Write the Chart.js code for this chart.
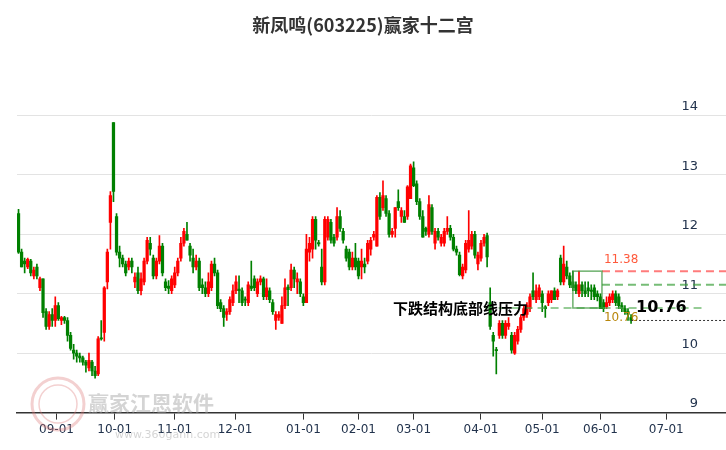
<!DOCTYPE html>
<html>
<head>
<meta charset="utf-8">
<script src="https://cdn.jsdelivr.net/npm/chart.js@4"></script>
<style>
  html, body { margin: 0; padding: 0; background: #fff; }
  #wrap { width: 726px; height: 450px; }
</style>
</head>
<body>
<div id="wrap"><canvas id="kline"></canvas></div>
<script>
// daily candles: [open, high, low, close]
const candles = [
  [12.35,12.42,11.68,11.70],[11.70,11.75,11.45,11.45],[11.55,11.60,11.35,11.50],[11.45,11.60,11.42,11.58],
  [11.55,11.58,11.30,11.35],[11.30,11.45,11.25,11.40],[11.45,11.50,11.25,11.30],[11.10,11.28,11.05,11.25],
  [11.25,11.25,10.60,10.68],[10.70,10.75,10.40,10.45],[10.45,10.70,10.40,10.65],[10.65,10.75,10.45,10.55],
  [10.55,10.95,10.45,10.80],[10.80,10.85,10.55,10.58],[10.55,10.62,10.48,10.60],[10.60,10.62,10.50,10.55],
  [10.55,10.60,10.20,10.30],[10.30,10.35,10.05,10.08],[10.05,10.15,9.90,10.00],[10.00,10.05,9.85,9.95],
  [9.95,10.00,9.85,9.92],[9.92,9.95,9.80,9.85],[9.85,9.88,9.68,9.80],[9.75,10.00,9.70,9.88],
  [9.85,9.88,9.62,9.70],[9.70,9.78,9.58,9.62],[9.65,10.28,9.62,10.24],[10.25,10.55,10.22,10.25],
  [10.35,11.12,10.20,11.10],[11.20,11.75,11.08,11.70],[12.20,12.72,11.75,12.65],[13.88,13.88,12.55,12.72],
  [12.30,12.35,11.65,11.70],[11.70,11.80,11.45,11.60],
  [11.60,11.65,11.45,11.50],[11.50,11.55,11.30,11.35],[11.45,11.60,11.40,11.55],[11.55,11.60,11.35,11.45],
  [11.20,11.35,11.10,11.28],[11.35,11.45,11.00,11.05],[11.05,11.35,10.98,11.25],[11.20,11.60,11.15,11.55],
  [11.55,11.95,11.50,11.90],[11.85,11.95,11.65,11.75],[11.60,11.65,11.25,11.30],[11.30,11.60,11.25,11.55],
  [11.55,11.98,11.50,11.80],[11.80,11.85,11.30,11.35],[11.20,11.25,11.05,11.10],[11.12,11.22,11.00,11.10],
  [11.05,11.30,11.00,11.25],[11.15,11.45,11.10,11.35],[11.35,11.60,11.30,11.55],[11.60,11.95,11.55,11.85],
  [11.85,12.10,11.80,12.05],[12.00,12.20,11.90,11.90],[11.80,11.85,11.55,11.65],[11.60,11.75,11.35,11.45],
  [11.45,11.65,11.40,11.55],[11.55,11.60,11.05,11.10],[11.15,11.25,11.00,11.10],[11.10,11.20,10.95,11.00],
  [11.00,11.35,10.95,11.20],[11.10,11.55,11.05,11.50],[11.50,11.60,11.30,11.35],[11.35,11.40,10.75,10.80],
  [10.85,10.90,10.70,10.75],[10.75,10.80,10.45,10.60],[10.65,10.75,10.55,10.70],[10.70,10.95,10.65,10.90],
  [10.85,11.15,10.80,11.05],[11.05,11.30,11.00,11.20],
  [11.08,11.30,10.85,11.05],[11.05,11.10,10.80,10.85],[10.90,10.95,10.80,10.90],[10.85,11.20,10.80,11.15],
  [11.12,11.55,11.05,11.10],[11.25,11.30,11.05,11.10],[11.00,11.25,10.95,11.20],[11.20,11.30,11.15,11.25],
  [11.25,11.28,10.90,10.95],[10.95,11.25,10.90,11.10],[11.05,11.10,10.85,10.90],[10.85,10.90,10.65,10.70],
  [10.55,10.70,10.40,10.65],[10.60,10.70,10.55,10.65],[10.50,10.95,10.50,10.80],[10.80,11.25,10.75,11.10],
  [11.10,11.15,10.80,11.08],[11.10,11.50,11.05,11.40],[11.40,11.45,11.10,11.25],[11.20,11.35,11.00,11.25],
  [11.20,11.25,10.95,11.00],[10.95,11.00,10.80,10.85],[10.85,12.00,10.85,11.75],[11.70,11.95,11.55,11.85],
  [11.75,12.30,11.60,12.25],[12.25,12.30,11.75,11.90],[11.85,11.90,11.80,11.85],[11.45,11.75,11.15,11.20],
  [11.20,12.30,11.15,12.25],[11.95,12.30,11.90,12.25],[12.20,12.25,11.85,11.90],[11.95,12.00,11.80,11.85],
  [11.95,12.45,11.90,12.30],[12.30,12.40,12.05,12.10],[12.05,12.10,11.85,11.90],[11.75,11.80,11.55,11.60],
  [11.70,11.75,11.40,11.45],[11.45,11.70,11.40,11.60],[11.60,11.85,11.40,11.45],[11.55,11.60,11.25,11.30],
  [11.45,11.75,11.25,11.55],[11.50,11.60,11.35,11.45],
  [11.55,11.90,11.50,11.85],[11.75,11.95,11.65,11.90],[11.95,12.05,11.90,12.00],[11.80,12.65,11.80,12.62],
  [12.62,12.70,12.25,12.30],[12.45,12.90,12.40,12.65],[12.60,12.65,12.30,12.35],[12.35,12.40,11.95,12.00],
  [12.00,12.10,11.95,12.05],[12.10,12.45,11.95,12.45],[12.55,12.75,12.40,12.45],[12.30,12.45,12.20,12.40],
  [12.30,12.40,12.20,12.20],[12.30,12.82,12.25,12.80],[12.60,13.18,12.60,13.15],[13.12,13.22,12.80,12.82],
  [12.85,12.90,12.50,12.55],[12.55,12.60,12.25,12.30],[12.30,12.40,11.95,11.95],[12.10,12.12,11.98,12.05],
  [12.00,12.65,11.95,12.50],[12.45,12.50,12.00,12.05],[11.85,12.10,11.75,12.05],[12.05,12.10,11.90,11.95],
  [11.85,12.00,11.80,11.95],[11.85,12.10,11.80,12.05],[12.05,12.30,12.00,12.10],[12.10,12.15,11.90,11.95],
  [11.95,12.00,11.72,11.75],[11.75,11.80,11.65,11.70],[11.65,11.70,11.30,11.32],[11.30,11.50,11.25,11.45],
  [11.40,11.90,11.35,11.85],[11.75,12.40,11.70,11.90],[11.80,12.05,11.75,12.00],[12.00,12.05,11.60,11.65],
  [11.50,11.70,11.40,11.65],[11.60,11.90,11.55,11.85],[11.85,12.00,11.80,11.95],[11.98,12.02,11.45,11.62],
  [10.85,11.10,10.40,10.45],[10.30,10.35,9.95,10.20],[10.05,10.10,9.65,10.05],[10.30,10.55,10.25,10.50],
  [10.50,10.55,10.25,10.30],[10.30,10.55,10.25,10.50],[10.45,10.60,10.40,10.50],[10.30,10.35,10.00,10.05],
  [10.00,10.35,9.98,10.30],[10.20,10.45,10.15,10.40],[10.40,10.65,10.35,10.60],[10.60,10.80,10.55,10.75],
  [10.65,10.85,10.60,10.80],[10.75,11.00,10.70,10.95],[11.05,11.35,10.90,10.95],[10.90,11.15,10.85,11.05],
  [10.95,11.15,10.90,11.10],[11.00,11.05,10.70,10.85],[10.78,10.80,10.60,10.75],[10.85,11.05,10.80,11.00],
  [10.90,11.05,10.85,11.05],[11.05,11.10,10.90,10.90],[10.95,11.08,10.90,11.05],[11.60,11.65,11.15,11.20],
  [11.20,11.80,11.15,11.50],[11.45,11.55,11.25,11.30],[11.30,11.35,11.10,11.15],[11.20,11.38,11.05,11.10],
  [11.15,11.20,11.00,11.05],[11.00,11.38,10.95,11.15],[11.15,11.20,10.95,11.05],[11.05,11.20,10.95,11.00],
  [11.10,11.20,10.95,11.05],[11.05,11.15,10.90,11.05],[11.10,11.15,10.90,10.95],[11.00,11.05,10.88,10.95],
  [10.95,11.00,10.75,10.75],[10.85,10.90,10.70,10.75],[10.78,10.95,10.75,10.85],[10.85,11.00,10.80,10.95],
  [10.90,11.05,10.85,11.00],[11.00,11.05,10.80,10.85],[10.95,11.00,10.75,10.80],[10.80,10.85,10.70,10.75],
  [10.75,10.80,10.65,10.70],[10.70,10.75,10.55,10.65],[10.60,10.65,10.50,10.55]
];

// month starts, in candle slots
const monthPos = [12.4, 31.4, 51, 70.7, 93, 111, 129, 151, 171, 190, 211.5];
const monthLabels = ['09-01','10-01','11-01','12-01','01-01','02-01','03-01','04-01','05-01','06-01','07-01'];
const yTicks = [9, 10, 11, 12, 13, 14];

// pattern levels
const resistTop = 11.38;
const resistMid = 11.15;
const baseLine = 10.76;
const lastPrice = 10.55;

const RED = 'rgb(255,0,0)';
const GREEN = 'rgb(0,128,0)';
const col = candles.map(c => c[3] > c[0] ? RED : GREEN);

const wicks = candles.map((c, i) => ({ x: i, y: [c[2], c[1]] }));
const bodies = candles.map((c, i) => {
  let lo = Math.min(c[0], c[3]), hi = Math.max(c[0], c[3]);
  if (hi - lo < 0.02) { lo -= 0.01; hi += 0.01; }
  return { x: i, y: [lo, hi] };
});

const overlay = {
  id: 'overlay',
  beforeDatasetsDraw(chart) {
    const ctx = chart.ctx;
    ctx.save();
    // watermark
    ctx.strokeStyle = 'rgba(220,120,120,0.35)';
    ctx.lineWidth = 3;
    ctx.beginPath(); ctx.arc(58, 404, 26, 0, Math.PI * 2); ctx.stroke();
    ctx.lineWidth = 1.5;
    ctx.beginPath(); ctx.arc(58, 404, 19, 0, Math.PI * 2); ctx.stroke();
    ctx.fillStyle = 'rgba(160,160,160,0.45)';
    ctx.font = 'bold 21px "Noto Sans CJK SC"';
    ctx.textBaseline = 'middle';
    ctx.fillText('赢家江恩软件', 88, 403);
    ctx.font = '11px "DejaVu Sans"';
    ctx.fillText('www.360gann.com', 115, 435);
    // y labels
    const y = chart.scales.y;
    ctx.fillStyle = '#22334d';
    ctx.font = '13px "DejaVu Sans"';
    ctx.textAlign = 'right';
    ctx.textBaseline = 'bottom';
    yTicks.forEach(v => ctx.fillText(String(v), 698, y.getPixelForValue(v) - 2));
    ctx.restore();
  },
  afterDatasetsDraw(chart) {
    const ctx = chart.ctx, x = chart.scales.x, y = chart.scales.y;
    const right = chart.chartArea.right;
    const hline = (v, x0, x1, color, dash, w) => {
      ctx.strokeStyle = color; ctx.setLineDash(dash); ctx.lineWidth = w;
      ctx.beginPath(); ctx.moveTo(x0, y.getPixelForValue(v)); ctx.lineTo(x1, y.getPixelForValue(v)); ctx.stroke();
    };
    ctx.save();
    hline(baseLine, x.getPixelForValue(152.5), x.getPixelForValue(223), 'rgba(80,170,80,0.6)', [8, 5], 2);
    hline(resistTop, x.getPixelForValue(190.5), right, 'rgba(255,90,90,0.8)', [8, 5], 2);
    hline(resistMid, x.getPixelForValue(190.5), right, 'rgba(60,160,60,0.7)', [8, 5], 2);
    hline(lastPrice, x.getPixelForValue(200), right, '#333', [2, 2], 1);
    ctx.setLineDash([]);
    ctx.strokeStyle = 'rgba(60,150,60,0.75)'; ctx.lineWidth = 1.5;
    const rx0 = x.getPixelForValue(181), rx1 = x.getPixelForValue(190.5);
    const ry0 = y.getPixelForValue(resistTop), ry1 = y.getPixelForValue(baseLine);
    ctx.strokeRect(rx0, ry0, rx1 - rx0, ry1 - ry0);

    ctx.textBaseline = 'middle';
    ctx.font = '12px "DejaVu Sans"';
    ctx.fillStyle = '#ff5a3c';
    ctx.fillText(resistTop.toFixed(2), rx1 + 2, ry0 - 11);
    ctx.fillStyle = '#b8860b';
    ctx.fillText(baseLine.toFixed(2), rx1 + 2, ry1 + 10);
    ctx.fillStyle = '#000';
    ctx.font = 'bold 16px "DejaVu Sans"';
    ctx.fillText(baseLine.toFixed(2), 636, ry1);
    ctx.font = 'bold 15px "Noto Sans CJK SC"';
    ctx.fillText('下跌结构底部线压力', 393, ry1);
    // title
    ctx.fillStyle = '#333';
    ctx.font = 'bold 18px "Noto Sans CJK SC"';
    ctx.textAlign = 'center';
    ctx.fillText('新凤鸣(603225)赢家十二宫', 363, 25);
    ctx.restore();
  }
};

new Chart(document.getElementById('kline'), {
  type: 'bar',
  data: {
    datasets: [
      { data: wicks, backgroundColor: col, barThickness: 1, grouped: false },
      { data: bodies, backgroundColor: col, barThickness: 2.6, grouped: false }
    ]
  },
  options: {
    responsive: true,
    maintainAspectRatio: false,
    animation: false,
    layout: { padding: { top: 56, left: 17, right: 0, bottom: 10 } },
    plugins: { legend: { display: false }, tooltip: { enabled: false } },
    scales: {
      x: {
        type: 'linear',
        offset: false,
        min: -0.5,
        max: 231,
        afterBuildTicks: s => { s.ticks = monthPos.map(v => ({ value: v })); },
        ticks: {
          autoSkip: false, maxRotation: 0,
          color: '#22334d', font: { size: 12, family: 'DejaVu Sans' },
          callback: (v) => monthLabels[monthPos.indexOf(v)]
        },
        grid: { drawOnChartArea: false, tickLength: 7, color: '#333', offset: false },
        border: { color: '#333', width: 1.5 }
      },
      y: {
        position: 'right',
        min: 9,
        max: 15,
        afterBuildTicks: s => { s.ticks = yTicks.map(v => ({ value: v })); },
        ticks: { display: false },
        grid: { color: '#e3e3e3', drawTicks: false },
        border: { display: false }
      }
    }
  },
  plugins: [overlay]
});
</script>
</body>
</html>
